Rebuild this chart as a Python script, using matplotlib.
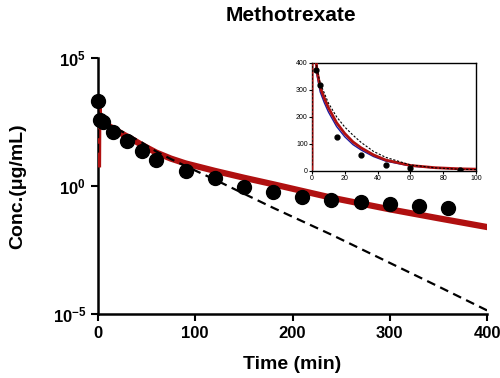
import matplotlib
matplotlib.use("Agg")
from matplotlib import pyplot as plt

plt.rcParams['font.family'] = ['Liberation Sans', 'DejaVu Sans']
plt.rcParams['mathtext.fontset'] = 'custom'
plt.rcParams['mathtext.rm'] = 'Liberation Sans'
plt.rcParams['mathtext.bf'] = 'Liberation Sans:bold'

# observed plasma concentrations
obs_time = [0, 2.5, 5, 15, 30, 45, 60, 90, 120, 150, 180, 210, 240, 270, 300, 330, 360]
obs_conc = [2100, 375, 318, 125, 57, 23, 10, 4.0, 2.0, 0.91, 0.6, 0.38, 0.29, 0.24, 0.20, 0.17, 0.135]

# model predictions
model_time = [0, 0.3, 1, 2, 3, 5, 7.5, 10, 15, 20, 25, 30, 37.5, 45, 60, 75, 90,
              120, 150, 180, 240, 300, 350, 400]
red_conc = [7, 1120, 710, 447, 372, 309, 269, 234, 178, 138, 107, 85, 59, 40, 20, 11.7, 7.6,
            3.9, 2.1, 1.17, 0.35, 0.123, 0.055, 0.025]
blue_conc = [7, 1100, 690, 430, 355, 292, 252, 218, 164, 126, 97, 77, 53, 36, 18, 10.6, 6.9,
             3.55, 1.92, 1.07, 0.32, 0.113, 0.05, 0.023]
dash_conc = [20, 1000, 630, 457, 380, 324, 288, 251, 200, 162, 132, 105, 72, 50, 22, 11.2, 6.0,
             1.78, 0.50, 0.141, 0.0126, 0.001, 1.2e-4, 1.4e-5]

x_ticks = [0, 100, 200, 300, 400]
y_ticks = [1e-5, 1, 1e5]
y_tick_labels = [r'$\mathbf{10^{-5}}$', r'$\mathbf{10^{0}}$', r'$\mathbf{10^{5}}$']
inset_x_ticks = [0, 20, 40, 60, 80, 100]
inset_y_ticks = [0, 100, 200, 300, 400]

fig = plt.figure(figsize=(5, 3.78), dpi=100)
ax = fig.add_axes([0.196, 0.169, 0.778, 0.678])

ax.plot(model_time, blue_conc, color='#1a1aa0', lw=1.2, zorder=2)
ax.plot(model_time, red_conc, color='#b01010', lw=4.5, zorder=3)
ax.plot(model_time, dash_conc, color='black', lw=1.6, ls=(0, (4, 2.5)), zorder=4)
ax.plot(obs_time, obs_conc, 'o', color='black', ms=10, zorder=5, clip_on=False)

ax.set_yscale('log')
ax.set_xlim(0, 400)
ax.set_ylim(1e-5, 1e5)
ax.set_yticks(y_ticks)
ax.set_yticklabels(y_tick_labels)
ax.minorticks_off()
ax.set_xticks(x_ticks)
ax.tick_params(axis='both', direction='out', length=5, width=1.5, labelsize=12)
for lbl in ax.get_xticklabels():
    lbl.set_fontweight('bold')
for s in ['top', 'right']:
    ax.spines[s].set_visible(False)
for s in ['left', 'bottom']:
    ax.spines[s].set_linewidth(1.8)

ax.set_xlabel('Time (min)', fontsize=14, fontweight='bold')
ax.xaxis.set_label_coords(0.5, -0.165)
ax.set_ylabel('Conc.(\u03bcg/mL)', fontsize=14, fontweight='bold')
ax.yaxis.set_label_coords(-0.185, 0.5)
fig.text(0.582, 0.96, 'Methotrexate', fontsize=15, fontweight='bold', ha='center', va='center')

# inset, linear scale
ins = fig.add_axes([0.624, 0.548, 0.328, 0.286])
ins.plot(model_time, blue_conc, color='#1a1aa0', lw=1.0, zorder=2)
ins.plot(model_time, red_conc, color='#b01010', lw=2.0, zorder=3)
ins.plot(model_time, dash_conc, color='black', lw=0.8, ls=(0, (2, 1.5)), zorder=4)
ins.plot(obs_time, obs_conc, 'o', color='black', ms=3.5, zorder=5)
ins.set_xlim(0, 100)
ins.set_ylim(0, 400)
ins.set_xticks(inset_x_ticks)
ins.set_yticks(inset_y_ticks)
ins.tick_params(axis='both', direction='out', length=2, width=0.8, labelsize=5, pad=1)
for s in ins.spines.values():
    s.set_linewidth(1.0)

plt.savefig('out.png', dpi=100)
